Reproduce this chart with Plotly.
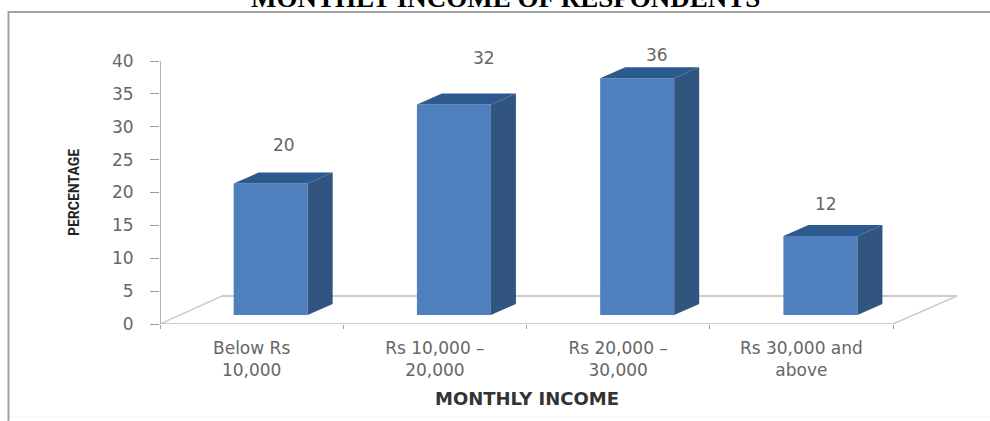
import plotly.graph_objects as go

categories = ["Below Rs<br>10,000", "Rs 10,000 –<br>20,000", "Rs 20,000 –<br>30,000", "Rs 30,000 and<br>above"]
values = [20, 32, 36, 12]
y_ticks = [0, 5, 10, 15, 20, 25, 30, 35, 40]
title_text = "MONTHLY INCOME OF RESPONDENTS"
x_title = "MONTHLY INCOME"
y_title = "PERCENTAGE"

# pixel geometry of the plot box
L, R, T, B, W, H = 160, 957, 61, 324, 990, 421
XMIN, XMAX = -0.5, -0.5 + (R - L) / 183.25
px_x = (XMAX - XMIN) / (R - L)
px_y = 40 / (B - T)

BAR_OFF, BAR_W = -0.098, 74 * px_x
BASE = 9 * px_y
DX, DY = 25 * px_x, 11 * px_y
LABEL_DX = [32, 49, 39, 25]
LABEL_DY = [47.5, 55.6, 32.3, 41]

FRONT, SIDE, TOP = "#4f80bd", "#32557f", "#2d5a8e"
GREY = "#9c9c9c"
FLOOR = "#cfcac6"
TXT = "#666666"


def pap_x(p):
    return (p - L) / (R - L)


def pap_y(p):
    return (B - p) / (B - T)


fig = go.Figure()
xs = list(range(len(values)))
fig.add_trace(go.Bar(x=xs, y=values, base=BASE, width=BAR_W, offset=BAR_OFF,
                     marker=dict(color=FRONT, line=dict(width=0)), hoverinfo="skip"))

for i, v in zip(xs, values):
    x0 = i + BAR_OFF
    x1 = x0 + BAR_W
    top = BASE + v
    fig.add_trace(go.Scatter(x=[x1, x1 + DX, x1 + DX, x1, x1], y=[BASE, BASE + DY, top + DY, top, BASE],
                             mode="lines", line=dict(width=0), fill="toself", fillcolor=SIDE, hoverinfo="skip"))
    fig.add_trace(go.Scatter(x=[x0, x0 + DX, x1 + DX, x1, x0], y=[top, top + DY, top + DY, top, top],
                             mode="lines", line=dict(width=0), fill="toself", fillcolor=TOP, hoverinfo="skip"))

fx0, fx1 = XMIN, XMIN + 4
back = 28 * px_y
shapes = [
    dict(type="rect", xref="paper", yref="paper", x0=pap_x(8.5), x1=pap_x(1010), y0=pap_y(12), y1=pap_y(440),
         line=dict(color="#a3a3a3", width=2), layer="below"),
    dict(type="line", xref="paper", yref="paper", x0=pap_x(10), x1=pap_x(990), y0=pap_y(417), y1=pap_y(417),
         line=dict(color="#f2f2f2", width=1), layer="below"),
    dict(type="line", xref="x", yref="y", x0=fx0, x1=fx1, y0=0, y1=0, line=dict(color=FLOOR, width=2), layer="below"),
    dict(type="line", xref="x", yref="y", x0=fx0, x1=fx0 + 62 * px_x, y0=0, y1=back, line=dict(color=FLOOR, width=1.5), layer="below"),
    dict(type="line", xref="x", yref="y", x0=fx0 + 62 * px_x, x1=XMAX, y0=back, y1=back, line=dict(color=FLOOR, width=2), layer="below"),
    dict(type="line", xref="x", yref="y", x0=fx1, x1=XMAX, y0=0, y1=back, line=dict(color=FLOOR, width=1.5), layer="below"),
    dict(type="line", xref="x", yref="y", x0=XMIN, x1=XMIN, y0=0, y1=40, line=dict(color=GREY, width=1.5), layer="below"),
]

annotations = [
    dict(x=i, y=v, xref="x", yref="y", text=str(v), showarrow=False, xshift=dx, yshift=dy, yanchor="middle",
         font=dict(family="DejaVu Sans", size=17, color=TXT))
    for i, v, dx, dy in zip(xs, values, LABEL_DX, LABEL_DY)
]
annotations.append(dict(x=pap_x(505), y=pap_y(15.5), xref="paper", yref="paper", yanchor="bottom", xanchor="center",
                        text="<b>%s</b>" % title_text, showarrow=False,
                        font=dict(family="Liberation Serif", size=27, color="#000000")))
annotations.append(dict(x=pap_x(526.5), y=pap_y(398), xref="paper", yref="paper", yanchor="middle", xanchor="center",
                        text="<b>%s</b>" % x_title, showarrow=False,
                        font=dict(family="DejaVu Sans", size=18, color="#333333")))

fig.update_layout(
    width=W, height=H, showlegend=False, autosize=False,
    margin=dict(l=L, r=W - R, t=T, b=H - B, pad=0),
    paper_bgcolor="white", plot_bgcolor="white",
    shapes=shapes, annotations=annotations,
    xaxis=dict(range=[XMIN, XMAX], tickmode="array", tickvals=xs, ticktext=categories,
               showgrid=False, zeroline=False, showline=False, ticks="", automargin=False,
               ticklabelstandoff=12,
               tickfont=dict(family="DejaVu Sans", size=17, color=TXT),
               minor=dict(tickmode="array", tickvals=[-0.5, 0.5, 1.5, 2.5, 3.5], ticks="outside", ticklen=4,
                          tickcolor=GREY, tickwidth=1, showgrid=False)),
    yaxis=dict(range=[0, 40], tickmode="array", tickvals=y_ticks, showgrid=False, zeroline=False, showline=False,
               ticks="outside", ticklen=9, tickcolor=GREY, tickwidth=1, automargin=False, ticklabelstandoff=13,
               tickfont=dict(family="DejaVu Sans", size=17, color=TXT),
               title=dict(text="<b>%s</b>" % y_title, standoff=29,
                          font=dict(family="Roboto", size=14, color="#222222"))),
)

fig.write_html("out.html", config=dict(displayModeBar=False),
               post_script="document.body.style.margin='0';document.documentElement.style.overflow='hidden';")
